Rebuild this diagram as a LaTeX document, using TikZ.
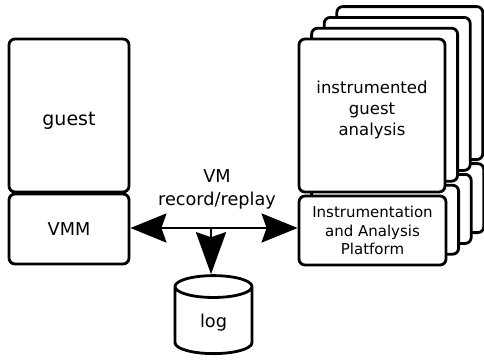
\documentclass[tikz,border=0pt]{standalone}
\usepackage{fontspec}
\setmainfont{DejaVu Sans}
\usetikzlibrary{arrows.meta,shapes.geometric}
\begin{document}
\begin{tikzpicture}[x=1pt, y=-1pt,
    blk/.style={draw, line width=2.8pt, rounded corners=6pt, fill=white, inner sep=0pt, align=center},
    txt/.style={font=\fontsize{17.7}{23}\selectfont, align=center},
    bigtip/.tip={Stealth[length=36pt, width=29pt, inset=5pt]}]
    \useasboundingbox (0,0) rectangle (484,362);
    % stack of analysis copies, back to front
    \foreach \k in {3,2,1} {
      \node[blk, minimum width=146pt, minimum height=153pt] (ana\k) at (372+12.6*\k, 115.5-10.8*\k) {};
      \node[blk, minimum width=147pt, minimum height=69pt] (plat\k) at (372.5+12.6*\k, 230.5-10.8*\k) {};
    }
    \node[blk, minimum width=146pt, minimum height=153pt, font=\fontsize{16.5}{21}\selectfont] (ana) at (372,115.5)
      {\raisebox{0.5pt}[0pt][0pt]{\begin{tabular}{@{}c@{}}instrumented\\guest\\analysis\end{tabular}}};
    \node[blk, minimum width=147pt, minimum height=69pt, font=\fontsize{15}{18.5}\selectfont] (plat) at (372.5,230.5) {Instrumentation\\and Analysis\\Platform};
    \node[blk, minimum width=120pt, minimum height=153pt, font=\fontsize{19}{23}\selectfont] (guest) at (69,115.5) {\raisebox{-10pt}[0pt][0pt]{guest}};
    \node[blk, minimum width=120pt, minimum height=70pt, txt] (vmm) at (69,229) {VMM};
    \node[txt] (rr) at (217,189.5) {VM\\record/replay};
    \node[draw, line width=2.8pt, cylinder, shape border rotate=90, aspect=0.65, minimum width=77pt, minimum height=78pt, txt] (log) at (213.5,323) {log};
    \coordinate (mid) at (211,228);
    \draw[line width=2.8pt, bigtip-bigtip] (vmm.east |- mid) -- (plat.west |- mid);
    \draw[line width=2.8pt, -{Stealth[length=42pt, width=30pt, inset=5pt]}] (mid) -- (mid |- log.top);
\end{tikzpicture}
\end{document}
